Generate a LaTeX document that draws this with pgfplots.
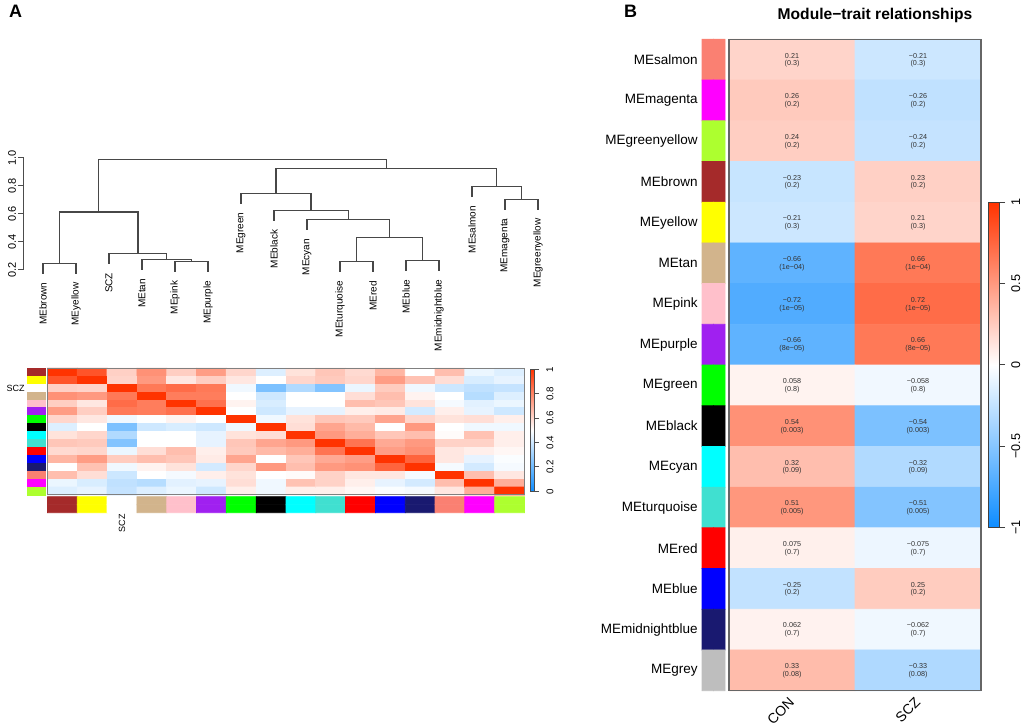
\documentclass[border=0pt]{standalone}
\usepackage{pgfplots}
\pgfplotsset{compat=1.18}
\usepackage{pgfplotstable}
\usepackage{fontspec}
\setmainfont{Liberation Sans}

\newcommand{\fs}[1]{\fontsize{#1}{#1}\selectfont}

\pgfplotsset{
  modcols/.style={colormap={modcols}{
    rgb255=(165,42,42) rgb255=(255,255,0) rgb255=(255,255,255) rgb255=(210,180,140)
    rgb255=(255,192,203) rgb255=(160,32,240) rgb255=(0,255,0) rgb255=(0,0,0)
    rgb255=(0,255,255) rgb255=(64,224,208) rgb255=(255,0,0) rgb255=(0,0,255)
    rgb255=(25,25,112) rgb255=(250,128,114) rgb255=(255,0,255) rgb255=(173,255,47)
    rgb255=(190,190,190)}, colormap access=direct},
  bwr/.style={colormap={bwr}{rgb=(0.05,0.55,1) rgb=(1,1,1) rgb=(1,0.2,0)}},
  panel/.style={scale only axis, anchor=south west, clip=false},
  dg/.style={black!72, line width=0.65pt, mark=none, solid},
  colorbar shift/.style={},
}

% module-trait correlations (panel B)
\pgfplotstableread{
x y r rl pl
1 1 0.21 0.21 (0.3)
2 1 -0.21 −0.21 (0.3)
1 2 0.26 0.26 (0.2)
2 2 -0.26 −0.26 (0.2)
1 3 0.24 0.24 (0.2)
2 3 -0.24 −0.24 (0.2)
1 4 -0.23 −0.23 (0.2)
2 4 0.23 0.23 (0.2)
1 5 -0.21 −0.21 (0.3)
2 5 0.21 0.21 (0.3)
1 6 -0.66 −0.66 (1e−04)
2 6 0.66 0.66 (1e−04)
1 7 -0.72 −0.72 (1e−05)
2 7 0.72 0.72 (1e−05)
1 8 -0.66 −0.66 (8e−05)
2 8 0.66 0.66 (8e−05)
1 9 0.058 0.058 (0.8)
2 9 -0.058 −0.058 (0.8)
1 10 0.54 0.54 (0.003)
2 10 -0.54 −0.54 (0.003)
1 11 0.32 0.32 (0.09)
2 11 -0.32 −0.32 (0.09)
1 12 0.51 0.51 (0.005)
2 12 -0.51 −0.51 (0.005)
1 13 0.075 0.075 (0.7)
2 13 -0.075 −0.075 (0.7)
1 14 -0.25 −0.25 (0.2)
2 14 0.25 0.25 (0.2)
1 15 0.062 0.062 (0.7)
2 15 -0.062 −0.062 (0.7)
1 16 0.33 0.33 (0.08)
2 16 -0.33 −0.33 (0.08)
}\Btab

\begin{document}
\begin{tikzpicture}
\useasboundingbox (0,0) rectangle (512pt,363pt);

% ---------- A: dendrogram
\begin{axis}[panel, at={(12pt,228pt)}, width=266.9pt, height=56pt,
  xmin=0.424, xmax=16.6, ymin=0.2, ymax=1.0,
  axis x line=none, axis y line*=left,
  y axis line style={black!70, line width=0.5pt},
  ytick={0.2,0.4,0.6,0.8,1.0}, yticklabels={0.2,0.4,0.6,0.8,1.0},
  tick align=outside, major tick length=2.8pt,
  ytick style={black!70, line width=0.5pt},
  yticklabel style={rotate=90, anchor=south, font=\fs{5.5}, inner sep=1pt},
]
\addplot[dg] coordinates {(1,0.174)(1,0.248)(2,0.248)(2,0.174)};
\addplot[dg] coordinates {(5,0.186)(5,0.26)(6,0.26)(6,0.186)};
\addplot[dg] coordinates {(4,0.200)(4,0.274)(5.5,0.274)(5.5,0.26)};
\addplot[dg] coordinates {(3,0.243)(3,0.317)(4.75,0.317)(4.75,0.274)};
\addplot[dg] coordinates {(1.5,0.248)(1.5,0.614)(3.875,0.614)(3.875,0.317)};
\addplot[dg] coordinates {(10,0.186)(10,0.26)(11,0.26)(11,0.186)};
\addplot[dg] coordinates {(12,0.196)(12,0.27)(13,0.27)(13,0.196)};
\addplot[dg] coordinates {(10.5,0.26)(10.5,0.434)(12.5,0.434)(12.5,0.27)};
\addplot[dg] coordinates {(9,0.486)(9,0.56)(11.5,0.56)(11.5,0.434)};
\addplot[dg] coordinates {(8,0.552)(8,0.626)(10.25,0.626)(10.25,0.56)};
\addplot[dg] coordinates {(7,0.674)(7,0.748)(9.125,0.748)(9.125,0.626)};
\addplot[dg] coordinates {(15,0.631)(15,0.705)(16,0.705)(16,0.631)};
\addplot[dg] coordinates {(14,0.721)(14,0.795)(15.5,0.795)(15.5,0.705)};
\addplot[dg] coordinates {(8.0625,0.748)(8.0625,0.926)(14.75,0.926)(14.75,0.795)};
\addplot[dg] coordinates {(2.6875,0.614)(2.6875,0.988)(11.40625,0.988)(11.40625,0.926)};
\addplot[draw=none, mark=none, nodes near coords, point meta=explicit symbolic,
  every node near coord/.style={yshift=-4.3pt, rotate=90, anchor=east, inner sep=0pt,
    font=\fs{5}, text=black}]
  table[meta=lab] {
x y lab
1 0.174 MEbrown
2 0.174 MEyellow
3 0.243 SCZ
4 0.200 MEtan
5 0.186 MEpink
6 0.186 MEpurple
7 0.674 MEgreen
8 0.552 MEblack
9 0.486 MEcyan
10 0.186 MEturquoise
11 0.186 MEred
12 0.196 MEblue
13 0.196 MEmidnightblue
14 0.721 MEsalmon
15 0.631 MEmagenta
16 0.631 MEgreenyellow
};
\end{axis}

% ---------- A: eigengene adjacency heatmap
\begin{axis}[panel, bwr, at={(23.75pt,115.5pt)}, width=238.5pt, height=63.35pt,
  xmin=0.5, xmax=16.5, ymin=0.5, ymax=16.5, y dir=reverse,
  xtick=\empty, ytick=\empty, axis on top,
  axis line style={black!50, line width=0.5pt},
  point meta min=0, point meta max=1,
  colorbar, colorbar style={at={(parent axis.north east)}, anchor=north west,
    xshift=2.75pt, yshift=-0.5pt, width=2.25pt, height=61pt, scale only axis,
    ytick={0,0.2,0.4,0.6,0.8,1}, yticklabels={0,0.2,0.4,0.6,0.8,1},
    yticklabel style={xshift=3.5pt, rotate=90, anchor=north, font=\fs{4.9}, inner sep=0pt},
    ytick pos=right, tick align=outside, major tick length=2.3pt,
    axis line style={black!70, line width=0.4pt}, ytick style={black!70, line width=0.4pt}},
]
\addplot[matrix plot*, mesh/cols=16, point meta=explicit] coordinates {
(1,1)[1] (2,1)[.92] (3,1)[.615] (4,1)[.77] (5,1)[.62] (6,1)[.74] (7,1)[.60] (8,1)[.43] (9,1)[.57] (10,1)[.64] (11,1)[.59] (12,1)[.68] (13,1)[.50] (14,1)[.66] (15,1)[.46] (16,1)[.43]
(1,2)[.92] (2,2)[1] (3,2)[.605] (4,2)[.75] (5,2)[.56] (6,2)[.62] (7,2)[.56] (8,2)[.50] (9,2)[.60] (10,2)[.63] (11,2)[.60] (12,2)[.74] (13,2)[.65] (14,2)[.58] (15,2)[.42] (16,2)[.45]
(1,3)[.615] (2,3)[.605] (3,3)[1] (4,3)[.83] (5,3)[.86] (6,3)[.83] (7,3)[.47] (8,3)[.23] (9,3)[.34] (10,3)[.245] (11,3)[.46] (12,3)[.625] (13,3)[.47] (14,3)[.395] (15,3)[.37] (16,3)[.38]
(1,4)[.77] (2,4)[.75] (3,4)[.83] (4,4)[1] (5,4)[.82] (6,4)[.82] (7,4)[.50] (8,4)[.40] (9,4)[.50] (10,4)[.50] (11,4)[.58] (12,4)[.66] (13,4)[.53] (14,4)[.50] (15,4)[.35] (16,4)[.43]
(1,5)[.62] (2,5)[.56] (3,5)[.86] (4,5)[.82] (5,5)[1] (6,5)[.85] (7,5)[.53] (8,5)[.42] (9,5)[.50] (10,5)[.50] (11,5)[.66] (12,5)[.64] (13,5)[.57] (14,5)[.48] (15,5)[.44] (16,5)[.46]
(1,6)[.74] (2,6)[.62] (3,6)[.83] (4,6)[.82] (5,6)[.85] (6,6)[1] (7,6)[.50] (8,6)[.40] (9,6)[.45] (10,6)[.45] (11,6)[.54] (12,6)[.55] (13,6)[.41] (14,6)[.54] (15,6)[.45] (16,6)[.40]
(1,7)[.60] (2,7)[.56] (3,7)[.47] (4,7)[.50] (5,7)[.53] (6,7)[.50] (7,7)[1] (8,7)[.47] (9,7)[.57] (10,7)[.64] (11,7)[.63] (12,7)[.72] (13,7)[.60] (14,7)[.57] (15,7)[.58] (16,7)[.54]
(1,8)[.43] (2,8)[.50] (3,8)[.23] (4,8)[.40] (5,8)[.42] (6,8)[.40] (7,8)[.47] (8,8)[1] (9,8)[.58] (10,8)[.72] (11,8)[.67] (12,8)[.50] (13,8)[.75] (14,8)[.50] (15,8)[.47] (16,8)[.47]
(1,9)[.57] (2,9)[.60] (3,9)[.34] (4,9)[.50] (5,9)[.50] (6,9)[.45] (7,9)[.57] (8,9)[.58] (9,9)[1] (10,9)[.75] (11,9)[.70] (12,9)[.64] (13,9)[.66] (14,9)[.51] (15,9)[.65] (16,9)[.54]
(1,10)[.64] (2,10)[.63] (3,10)[.245] (4,10)[.50] (5,10)[.50] (6,10)[.45] (7,10)[.64] (8,10)[.72] (9,10)[.75] (10,10)[1] (11,10)[.84] (12,10)[.71] (13,10)[.75] (14,10)[.61] (15,10)[.61] (16,10)[.54]
(1,11)[.59] (2,11)[.60] (3,11)[.46] (4,11)[.58] (5,11)[.66] (6,11)[.54] (7,11)[.63] (8,11)[.67] (9,11)[.70] (10,11)[.84] (11,11)[1] (12,11)[.74] (13,11)[.77] (14,11)[.56] (15,11)[.54] (16,11)[.52]
(1,12)[.68] (2,12)[.74] (3,12)[.625] (4,12)[.66] (5,12)[.64] (6,12)[.55] (7,12)[.72] (8,12)[.50] (9,12)[.64] (10,12)[.71] (11,12)[.74] (12,12)[1] (13,12)[.88] (14,12)[.56] (15,12)[.45] (16,12)[.49]
(1,13)[.50] (2,13)[.65] (3,13)[.47] (4,13)[.53] (5,13)[.57] (6,13)[.41] (7,13)[.60] (8,13)[.75] (9,13)[.66] (10,13)[.75] (11,13)[.77] (12,13)[.88] (13,13)[1] (14,13)[.48] (15,13)[.41] (16,13)[.48]
(1,14)[.66] (2,14)[.58] (3,14)[.395] (4,14)[.50] (5,14)[.48] (6,14)[.54] (7,14)[.57] (8,14)[.50] (9,14)[.51] (10,14)[.61] (11,14)[.56] (12,14)[.56] (13,14)[.48] (14,14)[1] (15,14)[.66] (16,14)[.56]
(1,15)[.46] (2,15)[.42] (3,15)[.37] (4,15)[.35] (5,15)[.44] (6,15)[.45] (7,15)[.58] (8,15)[.47] (9,15)[.65] (10,15)[.61] (11,15)[.54] (12,15)[.45] (13,15)[.41] (14,15)[.66] (15,15)[1] (16,15)[.70]
(1,16)[.43] (2,16)[.45] (3,16)[.38] (4,16)[.43] (5,16)[.46] (6,16)[.40] (7,16)[.54] (8,16)[.47] (9,16)[.54] (10,16)[.54] (11,16)[.52] (12,16)[.49] (13,16)[.48] (14,16)[.56] (15,16)[.70] (16,16)[1]
};
\end{axis}

% ---------- A: module colour strips
\begin{axis}[panel, modcols, at={(13.85pt,115.5pt)}, width=8.65pt, height=63.35pt,
  xmin=0.5, xmax=2.5, ymin=0.5, ymax=16.5, y dir=reverse,
  axis line style={draw=none}, xtick=\empty, ytick={3}, yticklabels={SCZ},
  major tick length=0pt,
  yticklabel style={xshift=-1.35pt, font=\fs{4.5}, inner sep=0pt},
]
\addplot[matrix plot*, mesh/cols=2, point meta=explicit] coordinates {
(1,1)[0] (2,1)[0] (1,2)[1] (2,2)[1] (1,3)[2] (2,3)[2] (1,4)[3] (2,4)[3]
(1,5)[4] (2,5)[4] (1,6)[5] (2,6)[5] (1,7)[6] (2,7)[6] (1,8)[7] (2,8)[7]
(1,9)[8] (2,9)[8] (1,10)[9] (2,10)[9] (1,11)[10] (2,11)[10] (1,12)[11] (2,12)[11]
(1,13)[12] (2,13)[12] (1,14)[13] (2,14)[13] (1,15)[14] (2,15)[14] (1,16)[15] (2,16)[15]
};
\end{axis}

\begin{axis}[panel, modcols, at={(23.75pt,106.65pt)}, width=238.5pt, height=8pt,
  xmin=0.5, xmax=16.5, ymin=0.5, ymax=2.5,
  axis line style={draw=none}, ytick=\empty, xtick={3}, xticklabels={SCZ},
  major tick length=0pt,
  xticklabel style={yshift=-0.5pt, rotate=90, anchor=east, font=\fs{4.5}, inner sep=0pt},
]
\addplot[matrix plot*, mesh/cols=16, point meta=explicit] coordinates {
(1,1)[0] (2,1)[1] (3,1)[2] (4,1)[3] (5,1)[4] (6,1)[5] (7,1)[6] (8,1)[7]
(9,1)[8] (10,1)[9] (11,1)[10] (12,1)[11] (13,1)[12] (14,1)[13] (15,1)[14] (16,1)[15]
(1,2)[0] (2,2)[1] (3,2)[2] (4,2)[3] (5,2)[4] (6,2)[5] (7,2)[6] (8,2)[7]
(9,2)[8] (10,2)[9] (11,2)[10] (12,2)[11] (13,2)[12] (14,2)[13] (15,2)[14] (16,2)[15]
};
\end{axis}

% ---------- B: module colour strip with names
\begin{axis}[panel, modcols, at={(351pt,17.65pt)}, width=11.5pt, height=325.65pt,
  xmin=0.5, xmax=2.5, ymin=0.5, ymax=16.5, y dir=reverse,
  axis line style={draw=none}, xtick=\empty,
  ytick={1,...,16},
  yticklabels={MEsalmon,MEmagenta,MEgreenyellow,MEbrown,MEyellow,MEtan,MEpink,MEpurple,
    MEgreen,MEblack,MEcyan,MEturquoise,MEred,MEblue,MEmidnightblue,MEgrey},
  major tick length=0pt,
  yticklabel style={xshift=-2pt, font=\fs{6.75}, inner sep=0pt},
]
\addplot[matrix plot*, mesh/cols=2, point meta=explicit] coordinates {
(1,1)[13] (2,1)[13] (1,2)[14] (2,2)[14] (1,3)[15] (2,3)[15] (1,4)[0] (2,4)[0]
(1,5)[1] (2,5)[1] (1,6)[3] (2,6)[3] (1,7)[4] (2,7)[4] (1,8)[5] (2,8)[5]
(1,9)[6] (2,9)[6] (1,10)[7] (2,10)[7] (1,11)[8] (2,11)[8] (1,12)[9] (2,12)[9]
(1,13)[10] (2,13)[10] (1,14)[11] (2,14)[11] (1,15)[12] (2,15)[12] (1,16)[16] (2,16)[16]
};
\end{axis}

% ---------- B: module-trait heatmap
\begin{axis}[panel, bwr, at={(364.5pt,17.65pt)}, width=126pt, height=325.65pt,
  xmin=0.5, xmax=2.5, ymin=0.5, ymax=16.5, y dir=reverse,
  xtick={1,2}, xticklabels={CON,SCZ}, ytick=\empty, major tick length=0pt,
  xticklabel style={yshift=-4.5pt, rotate=45, anchor=east, font=\fs{7}, inner sep=0pt},
  axis on top, axis line style={black!60, line width=0.75pt},
  point meta min=-1, point meta max=1,
  colorbar, colorbar style={at={(parent axis.north east)}, anchor=north west,
    xshift=3.5pt, yshift=-81.45pt, width=5.5pt, height=162.7pt, scale only axis,
    ytick={-1,-0.5,0,0.5,1}, yticklabels={−1,−0.5,0,0.5,1},
    yticklabel style={xshift=3pt, rotate=90, anchor=north, font=\fs{6.3}, inner sep=0pt},
    ytick pos=right, tick align=outside, major tick length=3pt,
    axis line style={black!75, line width=0.5pt}, ytick style={black!75, line width=0.5pt}},
]
\addplot[matrix plot*, mesh/cols=2, point meta=\thisrow{r}] table[x=x, y=y] {\Btab};
\addplot[draw=none, mark=none, nodes near coords, point meta=explicit symbolic,
  every node near coord/.style={yshift=2.1pt, anchor=center, inner sep=0pt,
    font=\fs{3.6}, text=black!80}]
  table[x=x, y=y, meta=rl] {\Btab};
\addplot[draw=none, mark=none, nodes near coords, point meta=explicit symbolic,
  every node near coord/.style={yshift=-2.1pt, anchor=center, inner sep=0pt,
    font=\fs{3.6}, text=black!80}]
  table[x=x, y=y, meta=pl] {\Btab};
\end{axis}

% ---------- titles
\node[anchor=base west, font=\bfseries\fs{9}] at (1pt,354pt) {A};
\node[anchor=base west, font=\bfseries\fs{9}] at (308.5pt,354pt) {B};
\node[font=\bfseries\fs{7.8}] at (437.5pt,355.5pt) {Module−trait relationships};
\end{tikzpicture}
\end{document}
